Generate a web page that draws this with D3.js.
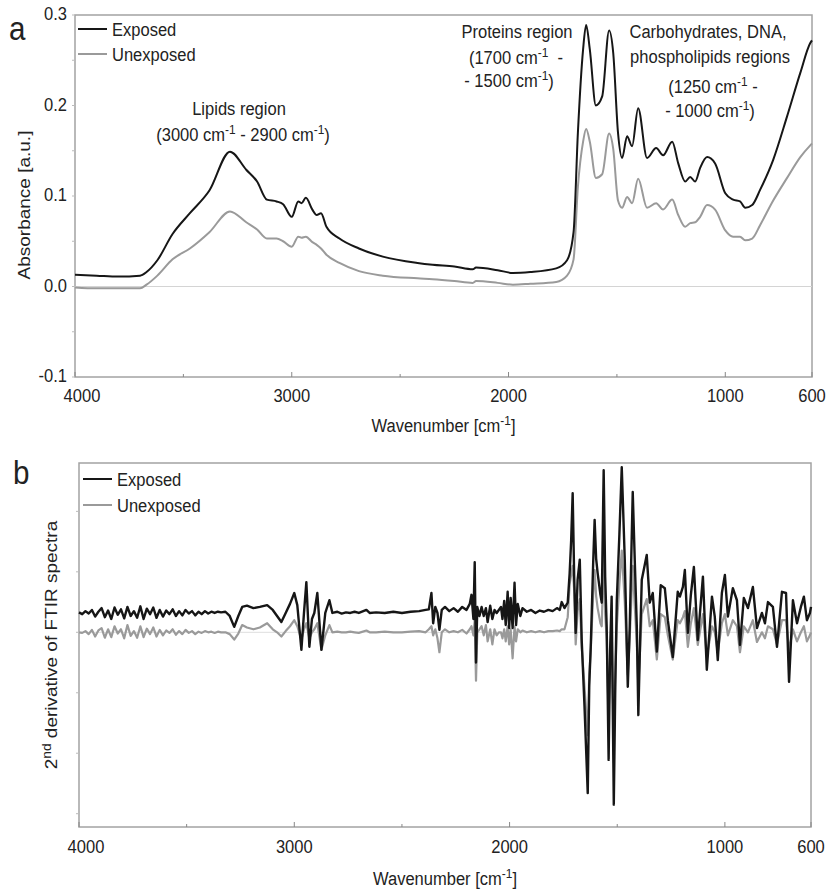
<!DOCTYPE html>
<html>
<head>
<meta charset="utf-8">
<script src="https://cdn.jsdelivr.net/npm/d3@7"></script>
<style>
  html, body { margin: 0; padding: 0; background: #fff; }
  svg { display: block; font-family: "Liberation Sans", Arial, sans-serif; }
</style>
</head>
<body>
<div id="chart"></div>
<script>
// FTIR spectra (a) and their 2nd derivative (b), exposed vs unexposed

// ---- panel a : absorbance ----
const ABS_WN = [
  4000, 3900, 3800, 3700, 3670, 3620, 3550, 3470, 3380, 3285,
  3210, 3160, 3115, 3070, 3040, 3000, 2970, 2955, 2935, 2905,
  2885, 2865, 2840, 2780, 2690, 2580, 2420, 2350, 2250, 2165,
  2150, 2050, 1980, 1900, 1780, 1730, 1700, 1680, 1656, 1642,
  1625, 1597, 1568, 1536, 1517, 1495, 1476, 1453, 1430, 1402,
  1361, 1319, 1287, 1245, 1217, 1185, 1162, 1139, 1116, 1084,
  1047, 1000, 964, 932, 908, 876, 839, 779, 715, 654,
  608, 600
];
const ABS_EXPOSED = [
  0.013, 0.012, 0.011, 0.012, 0.016, 0.029, 0.058, 0.081, 0.106, 0.149,
  0.129, 0.116, 0.096, 0.094, 0.091, 0.077, 0.094, 0.092, 0.098, 0.085,
  0.079, 0.081, 0.066, 0.053, 0.042, 0.033, 0.026, 0.024, 0.022, 0.019,
  0.021, 0.018, 0.015, 0.016, 0.020, 0.029, 0.060, 0.170, 0.262, 0.289,
  0.262, 0.200, 0.210, 0.283, 0.258, 0.170, 0.142, 0.166, 0.155, 0.197,
  0.142, 0.153, 0.145, 0.160, 0.136, 0.116, 0.121, 0.116, 0.131, 0.143,
  0.136, 0.103, 0.096, 0.094, 0.087, 0.090, 0.107, 0.140, 0.188, 0.236,
  0.269, 0.272
];
const ABS_UNEXPOSED = [
  -0.001, -0.002, -0.002, -0.002, 0.002, 0.012, 0.030, 0.042, 0.060, 0.083,
  0.071, 0.063, 0.053, 0.053, 0.050, 0.044, 0.055, 0.054, 0.055, 0.049,
  0.046, 0.042, 0.035, 0.026, 0.017, 0.012, 0.009, 0.008, 0.006, 0.004,
  0.006, 0.004, 0.002, 0.003, 0.005, 0.012, 0.030, 0.110, 0.160, 0.174,
  0.160, 0.120, 0.124, 0.169, 0.152, 0.095, 0.087, 0.099, 0.092, 0.119,
  0.087, 0.092, 0.085, 0.096, 0.079, 0.066, 0.070, 0.071, 0.077, 0.090,
  0.085, 0.062, 0.055, 0.055, 0.051, 0.053, 0.068, 0.095, 0.120, 0.143,
  0.156, 0.158
];
const ABS_TICKS = [0.3, 0.2, 0.1, 0.0, -0.1];
const ABS_TICK_LABELS = ['0.3', '0.2', '0.1', '0.0', '-0.1'];
const ABS_MINOR = [0.25, 0.15, 0.05, -0.05];

// ---- panel b : 2nd derivative (arbitrary units, 0 = baseline) ----
const DER_WN = [
  4000, 3985, 3970, 3955, 3940, 3925, 3910, 3895, 3880, 3865,
  3850, 3835, 3820, 3805, 3790, 3775, 3760, 3745, 3730, 3715,
  3700, 3685, 3670, 3655, 3640, 3625, 3610, 3595, 3580, 3565,
  3550, 3535, 3520, 3505, 3490, 3475, 3460, 3445, 3430, 3415,
  3400, 3385, 3370, 3355, 3340,
  3320, 3300, 3279, 3260, 3242, 3220, 3190, 3160, 3126, 3100,
  3080, 3060, 3040, 3020, 3000, 2986, 2967, 2955, 2944, 2930,
  2918, 2907, 2893, 2874, 2856, 2837, 2823,
  2800, 2780, 2760, 2740, 2720, 2700, 2665, 2650, 2620, 2580,
  2540, 2500, 2460, 2420, 2390, 2375, 2363, 2355, 2345, 2335,
  2326, 2315, 2300,
  2280, 2260, 2240, 2220, 2200, 2185, 2177, 2168, 2162, 2156,
  2150, 2140, 2130, 2120, 2110, 2102, 2090, 2080, 2070, 2060,
  2050, 2040, 2033, 2025, 2018, 2009, 2002, 1995, 1986, 1977,
  1970, 1962, 1950, 1940,
  1920, 1900, 1880, 1860, 1840, 1820, 1800, 1780, 1767, 1758,
  1745, 1730, 1721, 1714,
  1707, 1700, 1693, 1684, 1674, 1665, 1652, 1637, 1630, 1623,
  1612, 1605, 1598, 1591, 1578, 1572, 1563, 1556, 1549, 1540,
  1533, 1526, 1516, 1509, 1502, 1490, 1479, 1465, 1451, 1442,
  1428, 1418, 1409, 1402, 1394, 1386,
  1363, 1349, 1335, 1316, 1298, 1279, 1265, 1242, 1219, 1209,
  1195, 1186, 1172, 1158, 1144, 1126, 1102, 1084, 1060, 1047,
  1033, 1014, 1000, 986, 963, 944, 930, 912, 893, 870,
  851, 828, 814, 800, 777, 758, 735, 716, 702, 684,
  665, 647, 633, 619, 605, 600
];
const DER_EXPOSED = [
  0.01, -0.02, 0.03, -0.01, 0.05, -0.06, 0.02, 0.08, -0.07, 0.04,
  -0.1, 0.09, -0.03, 0.06, -0.09, 0.1, -0.05, 0.03, -0.08, 0.11,
  -0.1, 0.07, -0.02, 0.09, -0.08, 0.05, -0.06, 0.04, -0.02, 0.06,
  -0.05, 0.03, -0.04, 0.05, -0.01, 0.03, -0.04, 0.02, -0.02, 0.03,
  -0.01, 0.02, 0, 0.02, 0.01,
  0.02, -0.05, -0.23, -0.05, 0.1, 0.12, 0.08, 0.1, 0.13, 0.05,
  -0.05, -0.15, 0, 0.15, 0.33, 0.13, -0.61, 0, 0.51, -0.56,
  -0.1, 0, 0.33, -0.61, 0, 0.21, 0,
  0.02, -0.01, 0.01, 0, 0.02, 0, 0.05, 0, 0.01, 0,
  0.02, 0, 0.02, 0.03, 0.05, 0.06, 0.33, -0.17, 0.1, 0,
  -0.28, 0.05, 0.1,
  0.03, 0.08, 0.02, 0.1, 0.05, 0.15, 0.3, -0.1, 0.84, -0.82,
  0.1, -0.05, 0.1, -0.05, 0.08, -0.15, 0.12, -0.1, 0.05, 0,
  0.05, 0.1, -0.1, 0.2, -0.2, 0.35, -0.25, 0.25, -0.25, 0.5,
  -0.2, 0.15, -0.05, 0.08,
  0.02, 0.05, 0, 0.04, 0.02, 0.05, 0.03, 0.08, 0.05, 0.18,
  0.08, 0.17, 0.66, 1.2,
  1.98, 0.6, -0.33, 0.55, 0.88, -0.45, -1.55, -2.98, -1.2, -0.56,
  0.8, 1.54, 0.9, 0.66, 0.3, 0.17, 2.36, 0.6, -0.23, -2.43,
  -0.6, 0.27, -3.17, -1.2, 0.21, 1.3, 2.41, 0.88, -1.22, -0.23,
  2.0, 0.8, -0.23, -1.69, -0.5, 0.55,
  0.96, 0.17, 0.33, -0.64, 0.46, 0.41, -0.12, -0.73, 0.35, 0.27,
  0.43, 0.71, -0.33, 0.3, 0.76, -0.45, 0.6, -0.94, 0.27, -0.06,
  -0.78, 0.33, 0.63, -0.06, 0.41, 0.21, -0.53, 0.25, 0.08, 0.43,
  -0.25, 0, -0.17, 0.18, 0.1, -0.56, 0.35, 0.33, -1.14, 0.21,
  -0.17, 0.1, 0.27, -0.12, 0, 0.1
];
const DER_UNEXPOSED = [
  0, -0.01, 0.02, -0.03, 0.04, -0.07, 0.03, 0.07, -0.09, 0.05,
  -0.08, 0.1, -0.02, 0.05, -0.1, 0.12, -0.06, 0.02, -0.09, 0.1,
  -0.08, 0.06, -0.03, 0.08, -0.07, 0.04, -0.05, 0.03, -0.01, 0.05,
  -0.04, 0.02, -0.03, 0.04, -0.01, 0.02, -0.03, 0.01, -0.01, 0.02,
  0, 0.01, -0.01, 0.01, 0,
  0, -0.03, -0.12, -0.02, 0.12, 0.08, 0.05, 0.08, 0.15, 0.05,
  0, -0.07, 0.02, 0.1, 0.2, 0.1, -0.12, 0.05, 0.15, -0.1,
  0, 0.05, 0.15, -0.29, -0.05, 0.12, 0,
  0.01, 0, 0, 0.01, 0, -0.01, 0.03, 0, 0, 0.01,
  0, 0, 0.01, 0.02, 0, 0.05, 0.1, -0.05, 0.05, -0.1,
  -0.33, 0, 0.05,
  0, 0.02, 0, 0.04, -0.02, 0.05, 0.1, -0.05, 0.2, -0.8,
  0, 0.05, 0.1, -0.05, 0.12, -0.15, 0.05, -0.2, 0.05, -0.05,
  0, 0, -0.1, 0.05, -0.15, 0.1, -0.2, 0.05, -0.43, 0.1,
  -0.15, 0.05, 0, 0.03,
  0, 0.02, 0, 0.02, 0, 0.02, 0.02, 0.03, 0.02, 0.05,
  0.05, 0.25, 0.8, 0.95,
  1.1, 0.7, -0.2, 0.35, 0.55, -0.25, -0.9, -1.7, -0.7, -0.3,
  0.6, 1.03, 0.6, 0.4, 0.15, 0.1, 1.3, 0.3, -0.1, -1.4,
  -0.4, 0.1, -1.8, -0.7, 0.1, 0.8, 1.35, 0.5, -0.7, -0.1,
  1.1, 0.4, -0.2, -0.9, -0.3, 0.3,
  0.55, 0.1, 0.2, -0.45, 0.3, 0.25, -0.05, -0.45, 0.2, 0.15,
  0.25, 0.35, -0.24, 0.15, 0.4, -0.21, 0.3, -0.41, 0.1, 0,
  -0.33, 0.15, 0.3, -0.05, 0.2, 0.1, -0.33, 0.1, 0, 0.2,
  -0.16, 0, -0.1, 0.1, 0.05, -0.2, 0.2, 0.2, -0.3, 0.05,
  -0.15, 0, 0.1, -0.15, -0.05, 0
];
const DER_TICKS = [2, 1, 0, -1, -2, -3];

// ---- shared ----
const WN_TICKS = [4000, 3000, 2000, 1000, 600];
const WN_MINOR = [3500, 2500, 1500];
const SERIES = ['Exposed', 'Unexposed'];

const CONFIG = {
  WIDTH: 829,
  HEIGHT: 889,
  FONT: 19,
  SQUEEZE: 0.87,            // source picture is slightly narrow horizontally
  EXPOSED_SHIFT: 0.32,      // vertical offset of the exposed derivative trace
  COLORS: { Exposed: '#161616', Unexposed: '#9a9a9a' },
  FRAME: '#a3a3a3',
  TEXT: '#222',
};

const TOP = { left: 75, right: 812, top: 15, bottom: 377 };
const BOT = { left: 79, right: 811, top: 463, bottom: 827 };

const svg = d3.select('#chart').append('svg')
  .attr('width', CONFIG.WIDTH)
  .attr('height', CONFIG.HEIGHT);

// text helper: supports ^{...} superscripts, squeezed like the source
function addText(parent, x, y, str, opts = {}) {
  const s = CONFIG.SQUEEZE;
  const t = parent.append('text')
    .attr('transform', opts.rotate
      ? `translate(${x},${y}) rotate(-90) scale(1,${s})`
      : `translate(${x},${y}) scale(${s},1)`)
    .attr('text-anchor', opts.anchor || 'start')
    .attr('font-size', opts.size || CONFIG.FONT)
    .attr('fill', CONFIG.TEXT)
    .attr('xml:space', 'preserve');
  const parts = str.split(/\^\{(.*?)\}/);
  let raised = false;
  parts.forEach((p, i) => {
    if (p === '') return;
    const sup = i % 2 === 1;
    const ts = t.append('tspan').text(p);
    if (sup) {
      ts.attr('font-size', '0.72em').attr('dy', raised ? 0 : '-0.5em');
      raised = true;
    } else if (raised) {
      ts.attr('dy', '0.36em');
      raised = false;
    }
  });
  return t;
}

function drawFrame(g, box, y, ticks, minor, tickY) {
  const x = d3.scaleLinear().domain([4000, 600]).range([box.left, box.right]);

  g.append('rect')
    .attr('x', box.left).attr('y', box.top)
    .attr('width', box.right - box.left).attr('height', box.bottom - box.top)
    .attr('fill', 'none').attr('stroke', CONFIG.FRAME).attr('stroke-width', 1.5);

  // x ticks point inward
  WN_TICKS.concat(WN_MINOR).forEach(w => {
    const len = WN_MINOR.includes(w) ? 3 : 5;
    g.append('line')
      .attr('x1', x(w)).attr('x2', x(w))
      .attr('y1', box.bottom).attr('y2', box.bottom - len)
      .attr('stroke', '#888').attr('stroke-width', 1);
  });

  // y ticks, small marks left of the axis
  ticks.concat(minor).forEach(v => {
    g.append('line')
      .attr('x1', box.left - 3).attr('x2', box.left)
      .attr('y1', y(v)).attr('y2', y(v))
      .attr('stroke', '#bbb').attr('stroke-width', 1);
  });

  WN_TICKS.forEach(w => {
    const dx = w === 4000 ? 7 : 0;
    addText(g, x(w) + dx, box.bottom + tickY, String(w), { anchor: 'middle' });
  });
  return x;
}

// ================= panel a =================
const gA = svg.append('g');
const yA = d3.scaleLinear().domain([-0.1, 0.3]).range([TOP.bottom, TOP.top]);
const xA = drawFrame(gA, TOP, yA, ABS_TICKS, ABS_MINOR, 25);

gA.append('line')
  .attr('x1', TOP.left).attr('x2', TOP.right)
  .attr('y1', yA(0)).attr('y2', yA(0))
  .attr('stroke', '#d4d4d4').attr('stroke-width', 1.2);

ABS_TICKS.forEach((v, i) => {
  addText(gA, 67, yA(v) + 5, ABS_TICK_LABELS[i], { anchor: 'end' });
});

const lineA = d3.line()
  .x(d => xA(d[0]))
  .y(d => yA(d[1]))
  .curve(d3.curveMonotoneX);

[['Unexposed', ABS_UNEXPOSED], ['Exposed', ABS_EXPOSED]].forEach(([name, vals]) => {
  gA.append('path')
    .datum(ABS_WN.map((w, i) => [w, vals[i]]))
    .attr('d', lineA)
    .attr('fill', 'none')
    .attr('stroke', CONFIG.COLORS[name])
    .attr('stroke-width', 2)
    .attr('stroke-linejoin', 'round');
});

addText(gA, 9, 40, 'a', { size: 34 });
addText(gA, 30, 205, 'Absorbance [a.u.]', { rotate: true, anchor: 'middle' });
addText(gA, (TOP.left + TOP.right) / 2, 432, 'Wavenumber [cm^{-1}]', { anchor: 'middle' });

// region annotations
addText(gA, 239, 115, 'Lipids region', { anchor: 'middle' });
addText(gA, 243, 141, '(3000 cm^{-1} - 2900 cm^{-1})', { anchor: 'middle' });
addText(gA, 517, 38, 'Proteins region', { anchor: 'middle' });
addText(gA, 516, 64, '(1700 cm^{-1}  -', { anchor: 'middle' });
addText(gA, 509, 87, '- 1500 cm^{-1})', { anchor: 'middle' });
addText(gA, 708, 38, 'Carbohydrates, DNA,', { anchor: 'middle' });
addText(gA, 710, 63, 'phospholipids regions', { anchor: 'middle' });
addText(gA, 713, 93, '(1250 cm^{-1} -', { anchor: 'middle' });
addText(gA, 710, 117, '- 1000 cm^{-1})', { anchor: 'middle' });

function legend(g, x0, y0, gap) {
  SERIES.forEach((name, i) => {
    const y = y0 + i * gap;
    g.append('line')
      .attr('x1', x0).attr('x2', x0 + 29)
      .attr('y1', y).attr('y2', y)
      .attr('stroke', CONFIG.COLORS[name]).attr('stroke-width', 2);
    addText(g, x0 + 34, y + 7, name);
  });
}
legend(gA, 78, 29, 25);

// ================= panel b =================
const gB = svg.append('g');
const yB = d3.scaleLinear().domain([-3.22, 2.8]).range([BOT.bottom, BOT.top]);
const xB = drawFrame(gB, BOT, yB, DER_TICKS, [], 26);

gB.append('line')
  .attr('x1', BOT.left).attr('x2', BOT.right)
  .attr('y1', yB(0)).attr('y2', yB(0))
  .attr('stroke', '#dedede').attr('stroke-width', 1);

const lineB = d3.line()
  .x(d => xB(d[0]))
  .y(d => yB(d[1]));

[['Unexposed', DER_UNEXPOSED, 0], ['Exposed', DER_EXPOSED, CONFIG.EXPOSED_SHIFT]].forEach(([name, vals, shift]) => {
  gB.append('path')
    .datum(DER_WN.map((w, i) => [w, vals[i] + shift]))
    .attr('d', lineB)
    .attr('fill', 'none')
    .attr('stroke', CONFIG.COLORS[name])
    .attr('stroke-width', name === 'Exposed' ? 2.4 : 2.2)
    .attr('stroke-linejoin', 'round');
});

addText(gB, 13, 484, 'b', { size: 34 });
addText(gB, 57, 645, '2^{nd} derivative of FTIR spectra', { rotate: true, anchor: 'middle' });
addText(gB, (BOT.left + BOT.right) / 2, 885, 'Wavenumber [cm^{-1}]', { anchor: 'middle' });
legend(gB, 83, 479, 26);
</script>
</body>
</html>
